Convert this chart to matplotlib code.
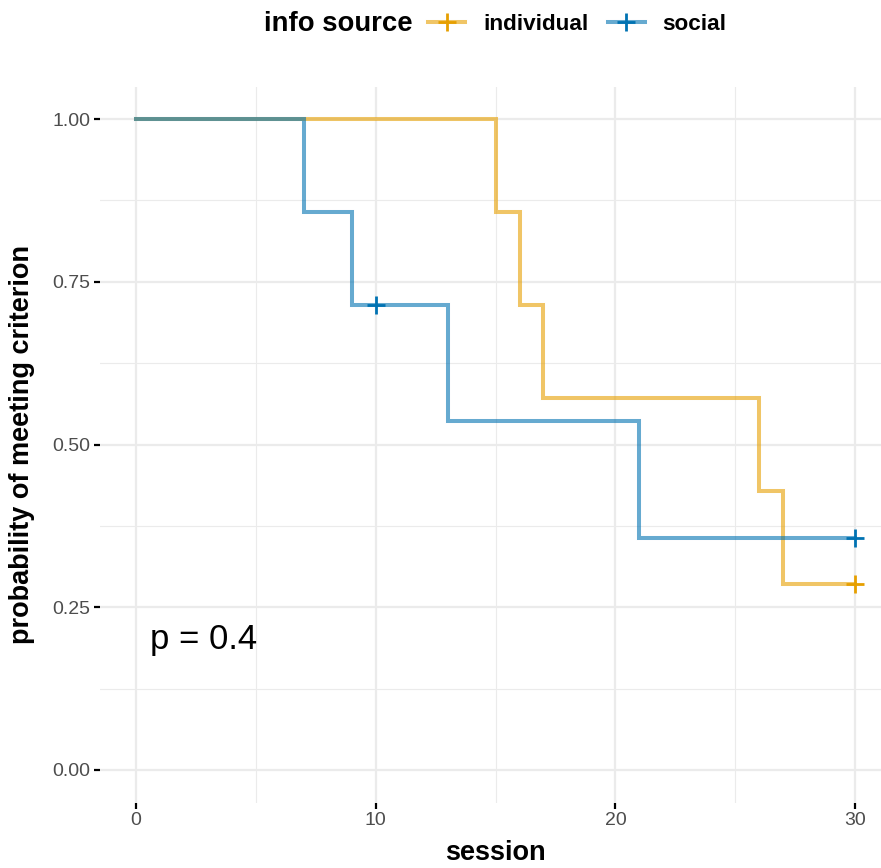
import matplotlib
matplotlib.use('Agg')
import matplotlib.pyplot as plt
from matplotlib.lines import Line2D

plt.rcParams['font.family'] = ['Liberation Sans', 'DejaVu Sans']

# Kaplan-Meier steps
ind_time = [0, 15, 16, 17, 26, 27, 30]
ind_surv = [1.0, 0.857, 0.714, 0.571, 0.429, 0.286, 0.286]
ind_cens_t = [30]
ind_cens_s = [0.286]

soc_time = [0, 7, 9, 13, 21, 30]
soc_surv = [1.0, 0.857, 0.714, 0.536, 0.357, 0.357]
soc_cens_t = [10, 30]
soc_cens_s = [0.714, 0.357]

groups = ['individual', 'social']
colors = ['#E69F00', '#0072B2']
x_ticks = [0, 10, 20, 30]
y_ticks = [0.0, 0.25, 0.5, 0.75, 1.0]
p_label = 'p = 0.4'

W, H = 881, 868
fig = plt.figure(figsize=(W / 100, H / 100), dpi=100)
ax = fig.add_axes([100 / W, 1 - 802.5 / H, 781 / W, 716 / H])

series = [(ind_time, ind_surv, ind_cens_t, ind_cens_s),
          (soc_time, soc_surv, soc_cens_t, soc_cens_s)]
for (t, s, ct, cs), col in zip(series, colors):
    ax.step(t, s, where='post', color=col, alpha=0.6, lw=2.9,
            solid_joinstyle='miter', zorder=3)
    ax.plot(ct, cs, ls='none', marker='+', ms=13, mew=2, color=col, zorder=4)

ax.set_xlim(-1.502, 31.08)
ax.set_ylim(-0.05, 1.05)
ax.set_xticks(x_ticks)
ax.set_xticks([5, 15, 25], minor=True)
ax.set_yticks(y_ticks)
ax.set_yticks([0.125, 0.375, 0.625, 0.875], minor=True)
ax.set_yticklabels([f'{v:.2f}' for v in y_ticks])
ax.grid(which='major', color='#EBEBEB', lw=1.6, zorder=0)
ax.grid(which='minor', color='#EBEBEB', lw=0.8, zorder=0)
ax.set_axisbelow(True)
for sp in ax.spines.values():
    sp.set_visible(False)
ax.tick_params(which='major', length=4.5, width=1.6, color='black',
               labelsize=14, labelcolor='#4D4D4D', pad=2.5)
ax.tick_params(which='minor', length=0)

ax.set_xlabel('session', fontsize=19.5, fontweight='bold')
ax.set_ylabel('probability of meeting criterion', fontsize=19.5,
              fontweight='bold')
ax.xaxis.set_label_coords((495 - 100) / 781, (802.5 - 853) / 716)
ax.yaxis.set_label_coords((22 - 100) / 781, (802.5 - 444) / 716)
ax.xaxis.label.set_va('center')
ax.yaxis.label.set_va('center')

ax.text(0.6, 0.2, p_label, fontsize=25, ha='left', va='center')

# legend on top: title to the left of the keys
fig.text(413 / W, 1 - 24 / H, 'info source', fontsize=19.8,
         fontweight='bold', ha='right', va='center')
handles = [(Line2D([], [], color=c, alpha=0.6, lw=2.9),
            Line2D([], [], color=c, ls='none', marker='+', ms=13, mew=2))
           for c in colors]
fig.legend(handles, groups, loc='center left',
           bbox_to_anchor=(428 / W, 1 - 24 / H), ncol=2, frameon=False,
           prop={'size': 16.2, 'weight': 'bold'}, borderaxespad=0,
           borderpad=0, handlelength=1.65, columnspacing=0.85,
           handletextpad=0.8)

fig.savefig('out.png', dpi=100)
